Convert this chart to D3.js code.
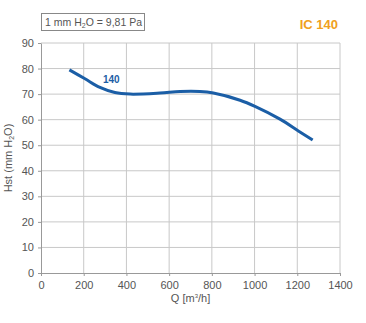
<!DOCTYPE html>
<html>
<head>
<meta charset="utf-8">
<script src="https://cdn.jsdelivr.net/npm/d3@7"></script>
<style>
  body { margin: 0; background: #fff; }
  text { font-family: "Liberation Sans", Arial, sans-serif; }
</style>
</head>
<body>
<svg id="chart" width="366" height="323"></svg>
<script>
// curve
var flow = [133, 206, 276, 346, 417, 557, 651, 744, 807, 932, 1002, 1119, 1205, 1272];
var pressure = [79.5, 76.0, 72.6, 70.6, 70.0, 70.4, 71.0, 71.0, 70.4, 67.6, 65.2, 60.2, 55.6, 52.0];
var xTicks = [0, 200, 400, 600, 800, 1000, 1200, 1400];
var yTicks = [0, 10, 20, 30, 40, 50, 60, 70, 80, 90];

var svg = d3.select('#chart');
var mLeft = 41, mRight = 340, mTop = 43, mBottom = 273;

var x = d3.scaleLinear().domain([0, 1400]).range([mLeft, mRight]);
var y = d3.scaleLinear().domain([0, 90]).range([mBottom, mTop]);

// grid
svg.append('g').selectAll('line').data(xTicks.slice(1)).enter().append('line')
    .attr('x1', function(d){ return x(d); }).attr('x2', function(d){ return x(d); })
    .attr('y1', mTop).attr('y2', mBottom)
    .attr('stroke', '#c8c8c8').attr('stroke-width', 1);
svg.append('g').selectAll('line').data(yTicks.slice(1)).enter().append('line')
    .attr('x1', mLeft).attr('x2', mRight)
    .attr('y1', function(d){ return y(d); }).attr('y2', function(d){ return y(d); })
    .attr('stroke', '#c8c8c8').attr('stroke-width', 1);

// axes
var xAxis = svg.append('g').attr('transform', 'translate(0,' + mBottom + ')')
    .call(d3.axisBottom(x).tickValues(xTicks).tickFormat(d3.format('d')).tickSize(3).tickSizeOuter(0));
var yAxis = svg.append('g').attr('transform', 'translate(' + mLeft + ',0)')
    .call(d3.axisLeft(y).tickValues(yTicks).tickFormat(d3.format('d')).tickSize(3).tickSizeOuter(0));
[xAxis, yAxis].forEach(function(a){
    a.attr('font-family', null);
    a.select('.domain').attr('stroke', '#999');
    a.selectAll('.tick line').attr('stroke', '#999');
    a.selectAll('.tick text').attr('fill', '#555').style('font-size', '11px');
});
xAxis.selectAll('.tick text').attr('dy', '0.95em');
yAxis.selectAll('.tick text').attr('dx', '-1px');

// axis titles
svg.append('text').attr('x', x(700)).attr('y', 302).attr('text-anchor', 'middle')
    .attr('fill', '#555').style('font-size', '11px')
    .html('Q [m<tspan dy="-4" font-size="6">3</tspan><tspan dy="4">/h]</tspan>');
svg.append('text').attr('transform', 'translate(12,' + y(45) + ') rotate(-90)')
    .attr('text-anchor', 'middle').attr('fill', '#555').style('font-size', '11px')
    .html('Hst (mm H<tspan dy="2" font-size="7">2</tspan><tspan dy="-2">O)</tspan>');

// header
svg.append('rect').attr('x', 41.5).attr('y', 13.5).attr('width', 103).attr('height', 17)
    .attr('fill', 'none').attr('stroke', '#888');
svg.append('text').attr('x', 45).attr('y', 26).attr('fill', '#555').style('font-size', '10.5px')
    .html('1 mm H<tspan dy="2" font-size="7">2</tspan><tspan dy="-2">O = 9,81 Pa</tspan>');
svg.append('text').attr('x', 338).attr('y', 29).attr('text-anchor', 'end')
    .attr('fill', '#f0a020').attr('font-weight', 'bold').style('font-size', '13px')
    .text('IC 140');

// curve
var line = d3.line()
    .x(function(d, i){ return x(flow[i]); })
    .y(function(d){ return y(d); })
    .curve(d3.curveCatmullRom.alpha(0.5));
svg.append('path').attr('d', line(pressure))
    .attr('fill', 'none').attr('stroke', '#1b5ea6').attr('stroke-width', 3)
    .attr('stroke-linecap', 'butt');

svg.append('text').attr('x', 103).attr('y', 83).attr('fill', '#1b5ea6')
    .attr('font-weight', 'bold').style('font-size', '10px').text('140');
</script>
</body>
</html>
